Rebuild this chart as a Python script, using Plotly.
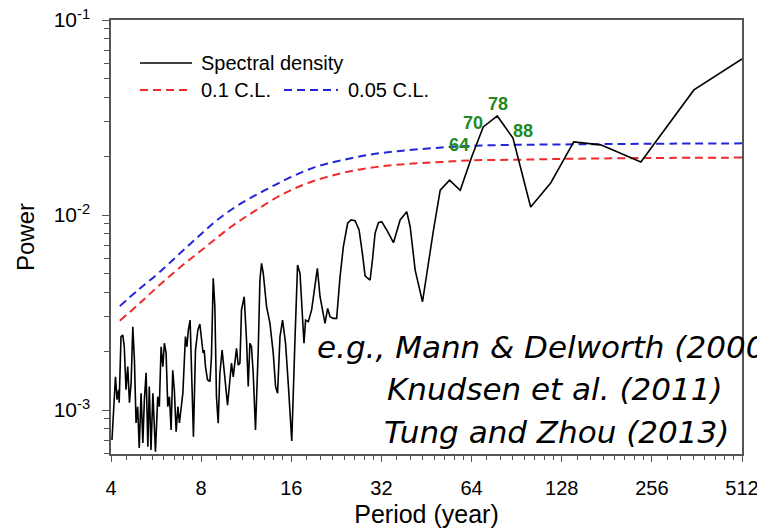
import math
import plotly.graph_objects as go

# Spectral density of the record (period in years, power)
period = [4.03, 4.14, 4.19, 4.24, 4.26, 4.32, 4.38, 4.43, 4.49, 4.55,
          4.61, 4.67, 4.73, 4.79, 4.85, 4.91, 4.97, 5.04, 5.11, 5.17,
          5.24, 5.31, 5.37, 5.44, 5.52, 5.63, 5.73, 5.80, 5.88, 5.96,
          6.03, 6.11, 6.19, 6.27, 6.35, 6.43, 6.51, 6.60, 6.69, 6.77,
          6.95, 7.03, 7.09, 7.17, 7.25, 7.35, 7.42, 7.54, 7.66, 7.80,
          7.92, 8.02, 8.12, 8.19, 8.27, 8.40, 8.56, 8.66, 8.78, 8.89,
          9.00, 9.12, 9.24, 9.40, 9.60, 9.80, 9.98, 10.10, 10.24, 10.42,
          10.50, 10.64, 10.78, 10.91, 11.14, 11.34, 11.49, 11.64, 11.78, 11.94,
          12.15, 12.41, 12.57, 12.73, 12.90, 13.23, 13.58, 13.93, 14.18, 14.40,
          14.67, 14.96, 15.31, 15.63, 16.06, 16.46, 16.79, 17.11, 17.32, 17.64,
          17.86, 18.24, 18.71, 19.20, 19.55, 19.96, 20.47, 20.74, 21.16, 21.55,
          22.11, 22.68, 23.28, 23.88, 24.68, 25.34, 26.13, 26.95, 27.64, 28.22,
          28.79, 29.33, 29.86, 30.48, 31.27, 32.07, 33.33, 35.10, 36.95, 38.88,
          39.91, 41.48, 43.88, 45.96, 47.76, 50.29, 54.02, 58.66, 64.0, 70.0,
          78.0, 88.0, 100.8, 117.6, 140.4, 172.8, 235.3, 353.7, 512.0]
power = [7.02e-4, 1.48e-3, 1.13e-3, 1.27e-3, 1.09e-3, 2.38e-3, 2.42e-3, 2.11e-3, 1.27e-3, 1.67e-3,
         1.09e-3, 1.38e-3, 2.67e-3, 1.80e-3, 8.58e-4, 1.04e-3, 6.39e-4, 1.22e-3, 6.77e-4, 1.13e-3,
         1.55e-3, 6.48e-4, 1.32e-3, 6.24e-4, 1.22e-3, 6.11e-4, 1.17e-3, 1.04e-3, 2.11e-3, 1.67e-3,
         2.20e-3, 1.96e-3, 1.04e-3, 1.17e-3, 7.90e-4, 1.60e-3, 1.27e-3, 7.74e-4, 1.04e-3, 8.58e-4,
         1.22e-3, 1.67e-3, 2.38e-3, 2.11e-3, 2.57e-3, 2.89e-3, 1.80e-3, 7.30e-4, 2.03e-3, 2.57e-3,
         2.76e-3, 2.38e-3, 1.96e-3, 2.03e-3, 1.67e-3, 1.43e-3, 1.40e-3, 1.88e-3, 4.74e-3, 3.39e-3,
         1.17e-3, 8.55e-4, 1.54e-3, 2.03e-3, 1.43e-3, 1.06e-3, 1.43e-3, 1.74e-3, 1.48e-3, 1.88e-3,
         2.07e-3, 1.70e-3, 1.74e-3, 3.26e-3, 3.81e-3, 2.29e-3, 1.32e-3, 2.20e-3, 2.11e-3, 1.54e-3,
         7.90e-4, 2.03e-3, 4.64e-3, 5.65e-3, 5.02e-3, 3.39e-3, 2.78e-3, 1.95e-3, 1.32e-3, 1.22e-3,
         2.38e-3, 2.89e-3, 2.20e-3, 1.37e-3, 6.93e-4, 2.29e-3, 5.54e-3, 5.02e-3, 3.53e-3, 2.20e-3,
         2.89e-3, 2.84e-3, 3.26e-3, 4.29e-3, 5.33e-3, 3.81e-3, 3.13e-3, 2.78e-3, 3.32e-3, 3.01e-3,
         2.95e-3, 2.95e-3, 4.83e-3, 6.88e-3, 9.07e-3, 9.43e-3, 9.35e-3, 8.38e-3, 6.36e-3, 4.87e-3,
         4.74e-3, 4.64e-3, 5.88e-3, 8.06e-3, 9.13e-3, 9.24e-3, 8.38e-3, 7.21e-3, 9.43e-3, 1.04e-2,
         8.71e-3, 5.22e-3, 3.59e-3, 5.88e-3, 8.38e-3, 1.34e-2, 1.51e-2, 1.34e-2, 1.98e-2, 2.83e-2,
         3.22e-2, 2.48e-2, 1.10e-2, 1.46e-2, 2.37e-2, 2.29e-2, 1.87e-2, 4.38e-2, 6.31e-2]

# 0.1 confidence level
cl10_period = [4.28, 5.05, 5.89, 7.06, 8.44, 10.1, 12.1, 14.85, 18.2, 23.6,
               30.5, 39.4, 50.9, 65.8, 90.0, 128.0, 256.0, 512.0]
cl10_power = [2.87e-3, 3.59e-3, 4.46e-3, 5.65e-3, 7.02e-3, 8.73e-3, 1.05e-2, 1.27e-2, 1.46e-2, 1.64e-2,
              1.76e-2, 1.83e-2, 1.87e-2, 1.91e-2, 1.92e-2, 1.94e-2, 1.96e-2, 1.97e-2]

# 0.05 confidence level
cl05_period = [4.28, 4.92, 5.75, 6.70, 7.82, 9.12, 10.9, 13.07, 15.6, 19.2,
               23.6, 30.5, 39.4, 50.9, 62.5, 90.0, 128.0, 256.0, 512.0]
cl05_power = [3.41e-3, 4.12e-3, 5.02e-3, 6.23e-3, 7.74e-3, 9.51e-3, 1.15e-2, 1.34e-2, 1.54e-2, 1.76e-2,
              1.91e-2, 2.06e-2, 2.15e-2, 2.22e-2, 2.26e-2, 2.29e-2, 2.30e-2, 2.32e-2, 2.33e-2]

# significant peaks (periods in years) and label offsets in pixels
peak_periods = [64, 70, 78, 88]
peak_offsets = [(-13, 12), (-10, 4), (1, 12), (10, 7)]

x_ticks = [4, 8, 16, 32, 64, 128, 256, 512]
y_ticks = [1e-3, 1e-2, 1e-1]
y_ticktext = ["10<sup>-3</sup>", "10<sup>-2</sup>", "10<sup>-1</sup>"]

references = ["e.g., Mann & Delworth (2000)", "Knudsen et al. (2011)", "Tung and Zhou (2013)"]

RED = "#ee2a2a"
BLUE = "#2424d8"
GREEN = "#218a21"
AX = "#555555"
SANS = "Liberation Sans, Arial, sans-serif"

fig = go.Figure()
fig.add_trace(go.Scatter(x=cl10_period, y=cl10_power, mode="lines", line_shape="spline",
                         line=dict(color=RED, width=2, dash="8px,5px"), showlegend=False))
fig.add_trace(go.Scatter(x=cl05_period, y=cl05_power, mode="lines", line_shape="spline",
                         line=dict(color=BLUE, width=2, dash="8px,5px"), showlegend=False))
fig.add_trace(go.Scatter(x=period, y=power, mode="lines",
                         line=dict(color="black", width=1.6), showlegend=False))

# peak labels
for p, (dx, dy) in zip(peak_periods, peak_offsets):
    v = power[period.index(float(p))]
    fig.add_annotation(x=math.log10(p), y=math.log10(v), text=f"<b>{p}</b>",
                       showarrow=False, xshift=dx, yshift=dy,
                       font=dict(family=SANS, size=18, color=GREEN))

# legend drawn inside the plot area
def px_x(px):
    return (px - 111) / 631

def px_y(py):
    return (454 - py) / 434

legend_rows = [
    (140, 192, 63, "black", "solid", 199, "Spectral density"),
    (140, 192, 90, RED, "8px,5px", 199, "0.1 C.L."),
    (284, 338, 90, BLUE, "8px,5px", 346, "0.05 C.L."),
]
for x0, x1, yy, col, dash, tx, label in legend_rows:
    fig.add_shape(type="line", xref="paper", yref="paper",
                  x0=px_x(x0), x1=px_x(x1), y0=px_y(yy), y1=px_y(yy),
                  line=dict(color=col, width=1.6 if dash == "solid" else 2, dash=dash))
    fig.add_annotation(xref="paper", yref="paper", x=px_x(tx), y=px_y(yy),
                       xanchor="left", yanchor="middle", text=label, showarrow=False,
                       font=dict(family=SANS, size=20, color="black"))

# citation block
ref_font = dict(family="DejaVu Sans", size=31, color="black", style="italic")
fig.add_annotation(xref="paper", yref="paper", x=px_x(315), y=px_y(347), xanchor="left",
                   yanchor="middle", text=references[0], showarrow=False, font=ref_font)
fig.add_annotation(xref="paper", yref="paper", x=px_x(555), y=px_y(389), xanchor="center",
                   yanchor="middle", text=references[1], showarrow=False, font=ref_font)
fig.add_annotation(xref="paper", yref="paper", x=px_x(556), y=px_y(432), xanchor="center",
                   yanchor="middle", text=references[2], showarrow=False, font=ref_font)

x_minor = [b * (1 + j / 8) for b in x_ticks[:-1] for j in range(1, 8)]
y_minor = [m * d for d in (1e-4, 1e-3, 1e-2) for m in range(2, 10)]

fig.update_xaxes(type="log", range=[math.log10(4), math.log10(512)],
                 tickmode="array", tickvals=x_ticks, ticktext=[str(t) for t in x_ticks],
                 ticks="outside", ticklen=6, tickwidth=1.2, tickcolor=AX,
                 minor=dict(tickmode="array", tickvals=x_minor, ticks="outside", ticklen=4,
                            tickcolor=AX, tickwidth=1, showgrid=False),
                 showline=True, linecolor=AX, linewidth=1.5, mirror=True,
                 showgrid=False, zeroline=False, ticklabelstandoff=9,
                 ticklabeloverflow="allow", automargin=False,
                 tickfont=dict(family=SANS, size=20, color="black"),
                 title=dict(text="Period (year)", standoff=22,
                            font=dict(family=SANS, size=25, color="black")))
fig.update_yaxes(type="log", range=[-3.2256, -1],
                 tickmode="array", tickvals=y_ticks, ticktext=y_ticktext,
                 ticks="outside", ticklen=7, tickwidth=1.2, tickcolor=AX,
                 minor=dict(tickmode="array", tickvals=y_minor, ticks="outside", ticklen=5,
                            tickcolor=AX, tickwidth=1, showgrid=False),
                 showline=True, linecolor=AX, linewidth=1.5, mirror=True,
                 showgrid=False, zeroline=False, ticklabelstandoff=8,
                 ticklabeloverflow="allow", automargin=False,
                 tickfont=dict(family=SANS, size=21, color="black"),
                 title=dict(text="Power", standoff=12,
                            font=dict(family=SANS, size=24, color="black")))

fig.update_layout(width=757, height=528, margin=dict(l=111, r=15, t=20, b=74, autoexpand=False),
                  paper_bgcolor="white", plot_bgcolor="white", showlegend=False)

fig.write_html("out.html")
